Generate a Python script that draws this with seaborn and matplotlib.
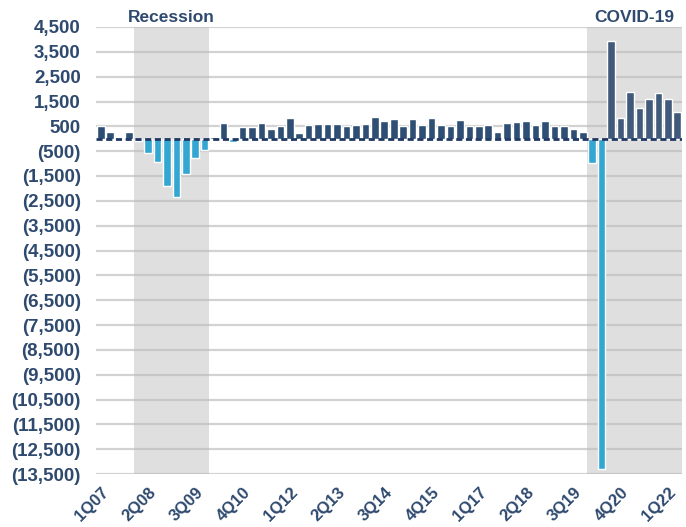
import numpy as np
import pandas as pd
import matplotlib
matplotlib.use("Agg")
import matplotlib.pyplot as plt
import seaborn as sns

# ---- data ----
years = list(range(2007, 2023))
quarters = [f"{q}Q{str(y)[2:]}" for y in years for q in range(1, 5)][:62]  # 1Q07 .. 2Q22
values = [520, 270, 30, 270,
          -110, -570, -920, -1920, -2330, -1410, -770, -460,
          80, 640, -140, 470, 470, 630, 400, 520, 840, 250,
          540, 580, 610, 610, 515, 570, 610, 880, 720, 800,
          515, 800, 570, 840, 570, 515, 745, 515, 515, 570,
          270, 620, 680, 720, 570, 720, 515, 515, 380, 270,
          -970, -13300, 3950, 850, 1900, 1230, 1590, 1860, 1590, 1070]
tick_labels = ["1Q07", "2Q08", "3Q09", "4Q10", "1Q12", "2Q13", "3Q14",
               "4Q15", "1Q17", "2Q18", "3Q19", "4Q20", "1Q22"]
recession = ("1Q08", "4Q09")
covid = ("1Q20", "2Q22")
yticks = list(range(-13500, 4501, 1000))

# ---- style ----
sns.set_style("white")
plt.rcParams["font.family"] = ["Liberation Sans", "DejaVu Sans"]
plt.rcParams["font.weight"] = "bold"

NAVY = "#2E4E74"
NAVY_C = "#415A7B"
CYAN = "#33A6D2"
TXT = "#2F4A6F"
SHADE = "#DFDFDF"

c0, c1 = quarters.index(covid[0]), quarters.index(covid[1])
kinds = []
for i, v in enumerate(values):
    if v < 0:
        kinds.append("neg")
    elif c0 <= i <= c1:
        kinds.append("pos_covid")
    else:
        kinds.append("pos")
df = pd.DataFrame({"quarter": quarters, "value": values, "kind": kinds})

fig = plt.figure(figsize=(6.86, 5.27), dpi=100)
ax = fig.add_axes([96 / 686, 1 - 474 / 527, (682 - 96) / 686, (474 - 27) / 527])

r0, r1 = quarters.index(recession[0]), quarters.index(recession[1])
ax.axvspan(r0 - 0.5, r1 + 0.5, color=SHADE, zorder=0, lw=0)
ax.axvspan(c0 - 0.5, c1 + 0.5, color=SHADE, zorder=0, lw=0)
for t in yticks:
    ax.axhline(t, color="#BBBBBB", alpha=0.65, lw=1.6, zorder=0.5)

sns.barplot(data=df, x="quarter", y="value", hue="kind", order=quarters,
            palette={"pos": NAVY, "pos_covid": NAVY_C, "neg": CYAN},
            dodge=False, legend=False, width=0.8, saturation=1, ax=ax,
            zorder=2)

ax.axhline(0, color="#1F3864", lw=2, ls=(0, (2.2, 1.3)), zorder=3)

ax.set_xlim(-0.5, len(quarters) - 0.5)
ax.set_ylim(-13500, 4500)
ax.set_yticks(yticks)
ax.set_yticklabels([f"({abs(t):,})" if t < 0 else f"{t:,}" for t in yticks],
                   fontsize=13.5, fontweight="bold", color=TXT)
ax.set_xticks([quarters.index(l) for l in tick_labels])
ax.set_xticklabels(tick_labels, rotation=45, ha="right", va="top",
                   rotation_mode="anchor", fontsize=12, fontweight="bold",
                   color=TXT)
ax.tick_params(axis="y", length=0, pad=11)
ax.tick_params(axis="x", length=0, pad=8)
ax.set_xlabel("")
ax.set_ylabel("")
for s in ax.spines.values():
    s.set_visible(False)

narrow = ["Liberation Sans Narrow", "Liberation Sans", "DejaVu Sans"]
ax.text((r0 + r1) / 2, 4870, "Recession", ha="center", va="center",
        fontsize=12.5, fontweight="bold", color=TXT, family=narrow,
        clip_on=False)
ax.text((c0 + c1) / 2, 4870, "COVID-19", ha="center", va="center",
        fontsize=12.5, fontweight="bold", color=TXT, family=narrow,
        clip_on=False)

fig.savefig("out.png", dpi=100)
